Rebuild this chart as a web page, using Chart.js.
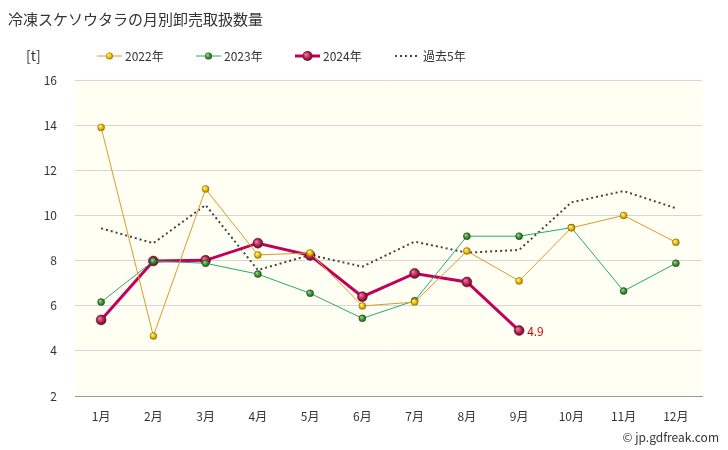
<!DOCTYPE html>
<html>
<head>
<meta charset="utf-8">
<script src="https://cdn.jsdelivr.net/npm/chart.js@4/dist/chart.umd.min.js"></script>
<style>
  html,body{margin:0;padding:0;background:#fff;}
  #wrap{width:728px;height:450px;position:relative;}
</style>
</head>
<body>
<div id="wrap"><canvas id="c" width="728" height="450"></canvas></div>
<script>
const FONT = '"Noto Sans CJK JP", "Noto Sans", sans-serif';
const months = ['1月','2月','3月','4月','5月','6月','7月','8月','9月','10月','11月','12月'];
const y2022 = [13.9, 4.66, 11.17, 8.25, 8.34, 5.99, 6.16, 8.42, 7.1, 9.45, 10.0, 8.81];
const y2023 = [6.16, 7.98, 7.88, 7.4, 6.55, 5.44, 6.22, 9.08, 9.08, 9.46, 6.65, 7.88];
const y2024 = [5.37, 7.98, 8.01, 8.77, 8.23, 6.4, 7.43, 7.05, 4.9];
const past5 = [9.43, 8.77, 10.46, 7.58, 8.25, 7.73, 8.84, 8.35, 8.47, 10.58, 11.08, 10.32];
const yTicks = [2, 4, 6, 8, 10, 12, 14, 16];

/* ---------- ball-like markers ---------- */
function ball(light, mid, dark){
  return (ctx) => {
    const el = ctx.element; const c = ctx.chart.ctx;
    if (!el || el.x == null || isNaN(el.x)) return mid;
    const r = (ctx.dataset.pointRadius || 4);
    const g = c.createRadialGradient(el.x - r*0.35, el.y - r*0.35, 0.5, el.x, el.y, r);
    g.addColorStop(0, light); g.addColorStop(0.6, mid); g.addColorStop(1, dark);
    return g;
  };
}

const series = [
  {label:'2022年', data:y2022, borderColor:'#e0982e', borderWidth:1, pointRadius:3.5,
   pointBackgroundColor:ball('#fff27a','#e8b400','#9a7000'), pointBorderColor:'#a07a10', pointBorderWidth:0.5, light:'#fff27a', mid:'#e8b400', dark:'#9a7000'},
  {label:'2023年', data:y2023, borderColor:'#2aa873', borderWidth:1, pointRadius:3.5,
   pointBackgroundColor:ball('#8fd07a','#3c8c34','#1d4f1a'), pointBorderColor:'#245a22', pointBorderWidth:0.5, light:'#8fd07a', mid:'#3c8c34', dark:'#1d4f1a'},
  {label:'2024年', data:y2024, borderColor:'#c2005c', borderWidth:3, pointRadius:5,
   pointBackgroundColor:ball('#e87aa0','#b0204e','#5a0a28'), pointBorderColor:'#7a1038', pointBorderWidth:0.5, light:'#e87aa0', mid:'#b0204e', dark:'#5a0a28'},
  {label:'過去5年', data:past5, borderColor:'#444', borderWidth:2, borderDash:[2,3], pointRadius:0}
];

/* ---------- background, title, legend, labels ---------- */
const decor = {
  id:'decor',
  beforeDraw(chart){
    const {ctx, chartArea:a} = chart;
    ctx.save();
    ctx.fillStyle = '#fffff4';
    ctx.fillRect(a.left, a.top - 2, a.right - a.left, a.bottom - a.top + 2);
    ctx.restore();
  },
  afterDraw(chart){
    const {ctx} = chart;
    ctx.save();
    ctx.fillStyle = '#333';
    ctx.textBaseline = 'middle';
    ctx.font = '15px ' + FONT;
    ctx.fillText('冷凍スケソウタラの月別卸売取扱数量', 8, 19);
    ctx.font = '14px ' + FONT;
    ctx.fillText('[t]', 26, 56);

    // legend
    const items = [[97, series[0]], [196, series[1]], [295, series[2]], [395, series[3]]];
    ctx.font = '12px ' + FONT;
    items.forEach(([x, s]) => {
      ctx.strokeStyle = s.borderColor; ctx.lineWidth = s.borderWidth;
      ctx.setLineDash(s.borderDash || []);
      ctx.beginPath(); ctx.moveTo(x, 56); ctx.lineTo(x + 25, 56); ctx.stroke();
      ctx.setLineDash([]);
      if (s.pointRadius) {
        const r = s.pointRadius, cx = x + 12.5;
        const g = ctx.createRadialGradient(cx - r*0.35, 56 - r*0.35, 0.5, cx, 56, r);
        g.addColorStop(0, s.light); g.addColorStop(0.6, s.mid); g.addColorStop(1, s.dark);
        ctx.fillStyle = g; ctx.beginPath(); ctx.arc(cx, 56, r, 0, Math.PI*2); ctx.fill();
      }
      ctx.fillStyle = '#333';
      ctx.fillText(s.label, x + 28, 56);
    });

    // last value label
    const meta = chart.getDatasetMeta(2);
    const last = meta.data[y2024.length - 1];
    ctx.fillStyle = '#e00000';
    ctx.font = '12px ' + FONT;
    ctx.fillText(String(y2024[y2024.length - 1]), last.x + 8, last.y + 1);

    ctx.fillStyle = '#333';
    ctx.textAlign = 'right';
    ctx.fillText('© jp.gdfreak.com', 719, 437);
    ctx.restore();
  }
};

new Chart(document.getElementById('c'), {
  type:'line',
  data:{labels:months, datasets:series.map(s => ({...s, fill:false, tension:0, pointHoverRadius:s.pointRadius, spanGaps:false}))},
  options:{
    responsive:false, animation:false,
    layout:{padding:{left:0, top:80, right:26, bottom:0}},
    plugins:{legend:{display:false}, title:{display:false}, tooltip:{enabled:false}},
    scales:{
      x:{
        offset:true,
        grid:{display:false, drawTicks:false, offset:true},
        border:{color:'#999', width:1},
        ticks:{color:'#333', font:{family:FONT, size:12}, padding:13, maxRotation:0},
        afterFit:s => { s.height = 54; }
      },
      y:{
        min:2, max:16,
        afterBuildTicks:s => { s.ticks = yTicks.map(v => ({value:v})); },
        grid:{color:'#d6d6d6', drawTicks:false},
        border:{display:false},
        ticks:{color:'#333', font:{family:FONT, size:12}, padding:18},
        afterFit:s => { s.width = 75; }
      }
    }
  },
  plugins:[decor]
});
</script>
</body>
</html>
